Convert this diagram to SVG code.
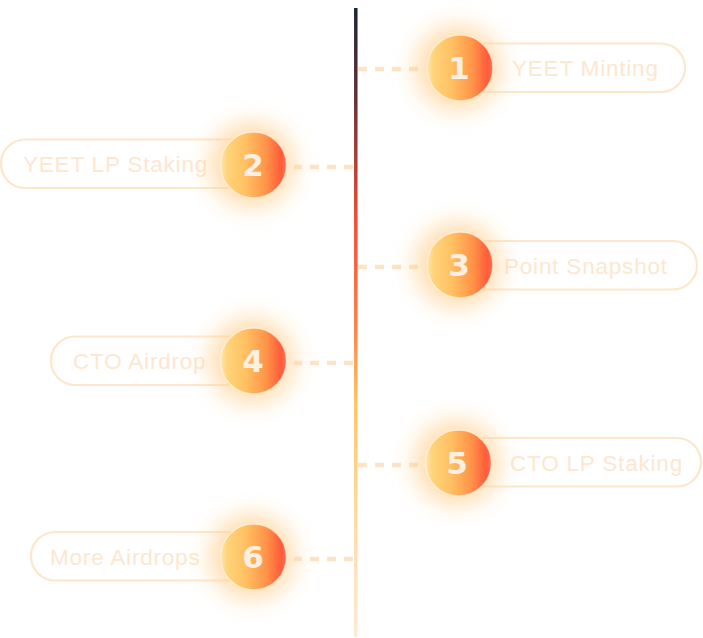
<svg xmlns="http://www.w3.org/2000/svg" width="703" height="638" viewBox="0 0 703 638">
<defs>
<linearGradient id="spine" x1="0" y1="8" x2="0" y2="637" gradientUnits="userSpaceOnUse">
<stop offset="0" stop-color="#1b2537"/>
<stop offset="0.15" stop-color="#6a3036"/>
<stop offset="0.34" stop-color="#f84a36"/>
<stop offset="0.5" stop-color="#ff7e46"/>
<stop offset="0.63" stop-color="#ffc462"/>
<stop offset="0.8" stop-color="#ffd9a0"/>
<stop offset="1" stop-color="#fdead6"/>
</linearGradient>
<linearGradient id="ball" x1="0" y1="0" x2="1" y2="0">
<stop offset="0" stop-color="#ffe6b0"/>
<stop offset="0.1" stop-color="#ffd47a"/>
<stop offset="0.38" stop-color="#ffc062"/>
<stop offset="0.7" stop-color="#ff9248"/>
<stop offset="0.92" stop-color="#ff5b3a"/>
<stop offset="1" stop-color="#ff7452"/>
</linearGradient>
<filter id="glow" x="-100%" y="-100%" width="300%" height="300%">
<feGaussianBlur stdDeviation="12"/>
</filter>
<filter id="soft" x="-20%" y="-20%" width="140%" height="140%">
<feGaussianBlur stdDeviation="0.7"/>
</filter>
</defs>
<style>
.pill{fill:#ffffff;stroke:#fde7cc;stroke-width:2.2}
.lbl{font-family:"Liberation Sans",Arial,sans-serif;font-size:22.5px;letter-spacing:0.8px;fill:#fde7cf}
.halo{fill:#ffcf8c;opacity:0.75;filter:url(#glow)}
.ball{fill:url(#ball);stroke:#fff3e2;stroke-opacity:0.7;stroke-width:1.5;filter:url(#soft)}
.num{font-family:"DejaVu Sans","Liberation Sans",sans-serif;font-weight:bold;font-size:31px;fill:#fdf0e2;text-anchor:middle}
.dash{stroke:#fde4c6;stroke-width:4.5;stroke-dasharray:9 8;fill:none}
</style>
<g id="connectors">
<line x1="355.8" y1="8" x2="355.8" y2="637" stroke="url(#spine)" stroke-width="3.5"/>
<line class="dash" x1="358" y1="69" x2="418" y2="69"/>
<line class="dash" x1="353" y1="167" x2="294" y2="167"/>
<line class="dash" x1="358" y1="267" x2="418" y2="267"/>
<line class="dash" x1="353" y1="363" x2="294" y2="363"/>
<line class="dash" x1="358" y1="465" x2="418" y2="465"/>
<line class="dash" x1="353" y1="559" x2="294" y2="559"/>
</g>
<g id="node1">
<rect class="pill" x="460" y="43.5" width="225" height="48.5" rx="24.2"/>
<text class="lbl" x="512" y="76">YEET Minting</text>
<circle class="halo" cx="458" cy="68" r="42"/>
<circle class="ball" cx="460" cy="68" r="33"/>
<text class="num" x="459" y="79">1</text>
</g>
<g id="node2">
<rect class="pill" x="1" y="139.5" width="253" height="48.5" rx="24.2"/>
<text class="lbl" x="23" y="172">YEET LP Staking</text>
<circle class="halo" cx="252" cy="165" r="42"/>
<circle class="ball" cx="253.5" cy="165" r="33"/>
<text class="num" x="253" y="176">2</text>
</g>
<g id="node3">
<rect class="pill" x="460" y="241" width="237" height="48.5" rx="24.2"/>
<text class="lbl" x="504" y="274">Point Snapshot</text>
<circle class="halo" cx="458" cy="265" r="42"/>
<circle class="ball" cx="460" cy="265" r="33"/>
<text class="num" x="459" y="276">3</text>
</g>
<g id="node4">
<rect class="pill" x="51" y="336.5" width="203" height="48.5" rx="24.2"/>
<text class="lbl" x="73" y="369">CTO Airdrop</text>
<circle class="halo" cx="252" cy="361" r="42"/>
<circle class="ball" cx="253.5" cy="361" r="33"/>
<text class="num" x="253" y="372">4</text>
</g>
<g id="node5">
<rect class="pill" x="458" y="438" width="243" height="48.5" rx="24.2"/>
<text class="lbl" x="510" y="471">CTO LP Staking</text>
<circle class="halo" cx="457" cy="463" r="42"/>
<circle class="ball" cx="458.5" cy="463" r="33"/>
<text class="num" x="457" y="474">5</text>
</g>
<g id="node6">
<rect class="pill" x="31" y="532" width="223" height="48.5" rx="24.2"/>
<text class="lbl" x="50" y="565">More Airdrops</text>
<circle class="halo" cx="252" cy="557" r="42"/>
<circle class="ball" cx="253.5" cy="557" r="33"/>
<text class="num" x="253" y="568">6</text>
</g>
</svg>
